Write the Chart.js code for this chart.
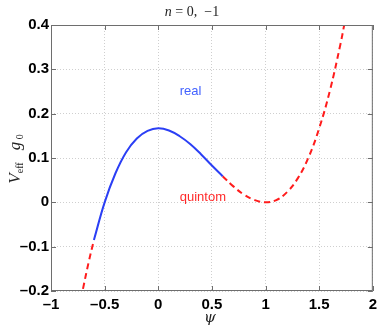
<!DOCTYPE html>
<html>
<head>
<meta charset="utf-8">
<script src="https://cdn.jsdelivr.net/npm/chart.js@4"></script>
<style>
  html, body { margin: 0; padding: 0; background: #fff; }
  #wrap { width: 382px; height: 327px; }
</style>
</head>
<body>
<div id="wrap"><canvas id="potChart" width="382" height="327"></canvas></div>
<script>
/* ======================================
   DATA
====================================== */
const psiLeft  = [-0.72, -0.70, -0.65, -0.60];
const vLeft    = [-0.217, -0.193, -0.136, -0.085];

const psiReal  = [-0.60, -0.50, -0.40, -0.30, -0.20, -0.10, 0.00, 0.10, 0.20, 0.30, 0.40, 0.50, 0.60];
const vReal    = [-0.085, 0.000, 0.065, 0.113, 0.144, 0.161, 0.167, 0.162, 0.149, 0.131, 0.108, 0.083, 0.059];

const psiRight = [0.60, 0.70, 0.80, 0.90, 1.00, 1.10, 1.20, 1.30, 1.40, 1.50, 1.60, 1.70, 1.74];
const vRight   = [0.059, 0.036, 0.017, 0.005, 0.000, 0.005, 0.023, 0.054, 0.101, 0.167, 0.252, 0.359, 0.409];

const xTicks = [-1, -0.5, 0, 0.5, 1, 1.5, 2];
const yTicks = [-0.2, -0.1, 0, 0.1, 0.2, 0.3, 0.4];

const labels = [
  { text: "real",    x: 0.2, y: 0.25, color: "#4262ff" },
  { text: "quintom", x: 0.2, y: 0.01, color: "#ff2a2a" }
];

const BLUE = "#2b3ff5";
const RED = "#ff1c1c";
const FRAME = "#6e6e6e";


function pts(xs, ys) {
  return xs.map((x, i) => ({ x: x, y: ys[i] }));
}

function fmt(v) {
  const r = Math.round(v * 10) / 10;
  if (r === 0) return "0";
  return (r < 0 ? "\u2013" : "") + String(Math.abs(r));
}


/* ======================================
   DECORATION PLUGIN
====================================== */
const decor = {
  id: "decor",
  afterDraw(chart) {
    const ctx = chart.ctx;
    const a = chart.chartArea;
    const sx = chart.scales.x;
    const sy = chart.scales.y;

    ctx.save();

    // frame + inner ticks
    ctx.strokeStyle = FRAME;
    ctx.lineWidth = 1;
    ctx.setLineDash([]);
    ctx.strokeRect(a.left + 0.5, a.top + 0.5, a.right - a.left - 1, a.bottom - a.top - 1);
    ctx.beginPath();
    xTicks.forEach(v => {
      const px = Math.round(sx.getPixelForValue(v)) + 0.5;
      ctx.moveTo(px, a.bottom); ctx.lineTo(px, a.bottom - 5);
      ctx.moveTo(px, a.top); ctx.lineTo(px, a.top + 5);
    });
    yTicks.forEach(v => {
      const py = Math.round(sy.getPixelForValue(v)) + 0.5;
      ctx.moveTo(a.left, py); ctx.lineTo(a.left + 5, py);
      ctx.moveTo(a.right, py); ctx.lineTo(a.right - 5, py);
    });
    ctx.stroke();

    // text labels inside plot
    ctx.font = "13px 'Liberation Sans', Arial, sans-serif";
    ctx.textBaseline = "middle";
    ctx.textAlign = "left";
    labels.forEach(l => {
      ctx.fillStyle = l.color;
      ctx.fillText(l.text, sx.getPixelForValue(l.x), sy.getPixelForValue(l.y));
    });

    // title: n = 0, -1
    ctx.fillStyle = "#222";
    const fI = "italic 14px 'Liberation Serif', serif";
    const fN = "14px 'Liberation Serif', serif";
    drawRun(ctx, [[fI, "n"], [fN, " = 0,  \u22121"]], 192, 11);

    // x title
    ctx.font = "italic 15px 'DejaVu Serif', serif";
    ctx.textAlign = "center";
    ctx.textBaseline = "middle";
    ctx.fillText("\u03c8", 210, 318);

    // y title: V_eff g_0 (rotated)
    ctx.translate(15, 159);
    ctx.rotate(-Math.PI / 2);
    const yParts = [
      ["italic 17px 'Liberation Serif', serif", "V", 0],
      ["10px 'Liberation Serif', serif", "eff", 3],
      ["16px 'Liberation Serif', serif", "   ", 0],
      ["italic 17px 'Liberation Serif', serif", "g", 0],
      ["10px 'Liberation Serif', serif", " 0", 3]
    ];
    drawRun(ctx, yParts, 0, 0);

    ctx.restore();
  }
};

function drawRun(ctx, parts, cx, cy) {
  let total = 0;
  parts.forEach(p => { ctx.font = p[0]; total += ctx.measureText(p[1]).width; });
  let x = cx - total / 2;
  ctx.textAlign = "left";
  ctx.textBaseline = "alphabetic";
  parts.forEach(p => {
    ctx.font = p[0];
    ctx.fillText(p[1], x, cy + 5 + (p[2] || 0));
    x += ctx.measureText(p[1]).width;
  });
}


/* ======================================
   CHART
====================================== */
const tickFont = { family: "'Liberation Sans', Arial, sans-serif", size: 15, weight: "bold" };

new Chart(document.getElementById("potChart"), {
  type: "scatter",
  data: {
    datasets: [
      {
        data: pts(psiLeft, vLeft),
        showLine: true, borderColor: RED, borderWidth: 2, borderDash: [6, 4],
        pointRadius: 0, tension: 0.4
      },
      {
        data: pts(psiReal, vReal),
        showLine: true, borderColor: BLUE, borderWidth: 2,
        pointRadius: 0, tension: 0.4
      },
      {
        data: pts(psiRight, vRight),
        showLine: true, borderColor: RED, borderWidth: 2, borderDash: [6, 4],
        pointRadius: 0, tension: 0.4
      }
    ]
  },
  options: {
    responsive: false,
    animation: false,
    layout: { padding: { top: 25, right: 7, left: 0, bottom: 0 } },
    plugins: {
      legend: { display: false },
      tooltip: { enabled: false }
    },
    scales: {
      x: {
        type: "linear", min: -1, max: 2,
        afterBuildTicks: s => { s.ticks = xTicks.map(v => ({ value: v })); },
        afterFit: s => { s.height = 36; },
        ticks: { color: "#000", font: tickFont, padding: 5, maxRotation: 0, callback: v => fmt(v) },
        grid: { color: "#cfcfcf", drawTicks: false, lineWidth: 1 },
        border: { display: false, dash: [1, 2] }
      },
      y: {
        type: "linear", min: -0.2, max: 0.4,
        afterBuildTicks: s => { s.ticks = yTicks.map(v => ({ value: v })); },
        afterFit: s => { s.width = 51; },
        ticks: { color: "#000", font: tickFont, padding: 2, callback: v => fmt(v) },
        grid: { color: "#cfcfcf", drawTicks: false, lineWidth: 1 },
        border: { display: false, dash: [1, 2] }
      }
    }
  },
  plugins: [decor]
});
</script>
</body>
</html>
